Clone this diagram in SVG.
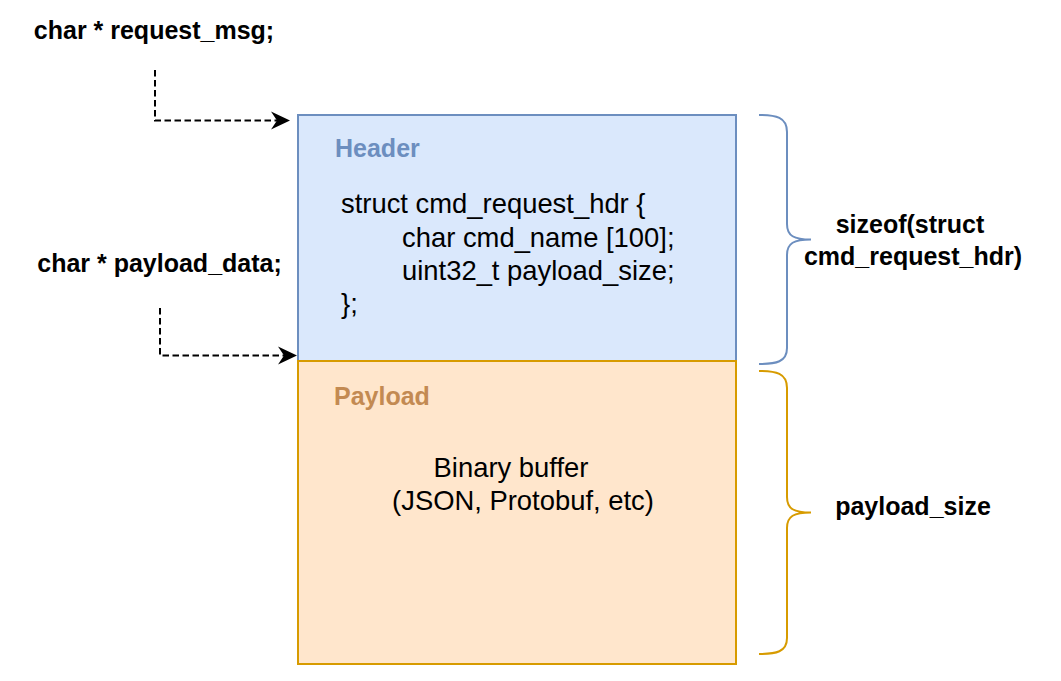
<svg xmlns="http://www.w3.org/2000/svg" width="1061" height="681" viewBox="0 0 1061 681">
<style>
.b{font-family:"Liberation Sans",Arial,sans-serif;font-weight:bold;font-size:25px;fill:#000}
.r{font-family:"Liberation Sans",Arial,sans-serif;font-size:27.4px;fill:#000}
.conn{fill:none;stroke:#000;stroke-width:2;stroke-dasharray:6.5 3.5}
.head{fill:#000;stroke:none}
.brace{fill:none;stroke-width:2}
</style>
<defs>
<path id="ah" class="head" d="M0,0 L-19,-9 L-13,0 L-19,9 Z"/>
</defs>
<rect width="1061" height="681" fill="#fff"/>
<g id="header">
<rect x="298" y="115" width="438" height="246" fill="#dae8fc" stroke="#6c8ebf" stroke-width="2"/>
<text x="335" y="157" class="b" style="fill:#6c8ebf">Header</text>
<text x="341" y="213" class="r">struct cmd_request_hdr {</text>
<text x="402" y="247" class="r">char cmd_name [100];</text>
<text x="402" y="280" class="r">uint32_t payload_size;</text>
<text x="341" y="313" class="r">};</text>
</g>
<g id="payload">
<rect x="298" y="361" width="438" height="303" fill="#ffe6cc" stroke="#d79b00" stroke-width="2"/>
<text x="334" y="405" class="b" style="fill:#c38a52">Payload</text>
<text x="511" y="477" class="r" text-anchor="middle">Binary buffer</text>
<text x="523" y="510" class="r" text-anchor="middle">(JSON, Protobuf, etc)</text>
</g>
<g id="request_msg">
<text x="154" y="39" class="b" text-anchor="middle">char * request_msg;</text>
</g>
<g id="payload_data">
<text x="159.5" y="272" class="b" text-anchor="middle">char * payload_data;</text>
</g>
<g id="hdr_brace">
<path class="brace" stroke="#6c8ebf" d="M759,115 C776,115 787,117 787,132 L787,224 C787,236 794,239.5 811,239.5 C794,239.5 787,243 787,255 L787,348 C787,362 776,364 759,364"/>
<text x="910" y="233" class="b" text-anchor="middle">sizeof(struct</text>
<text x="913" y="265" class="b" text-anchor="middle">cmd_request_hdr)</text>
</g>
<g id="payload_brace">
<path class="brace" stroke="#d79b00" d="M759,371 C776,371 787,373 787,388 L787,497 C787,509 794,512.5 811,512.5 C794,512.5 787,516 787,528 L787,638 C787,652 776,654 759,654"/>
<text x="913" y="515" class="b" text-anchor="middle">payload_size</text>
</g>
<g id="connectors">
<path class="conn" d="M155,70 L155,120.5 L277,120.5"/>
<use href="#ah" x="290" y="120.5"/>
<path class="conn" d="M160,308 L160,355.5 L284,355.5"/>
<use href="#ah" x="297" y="355.5"/>
</g>
</svg>
